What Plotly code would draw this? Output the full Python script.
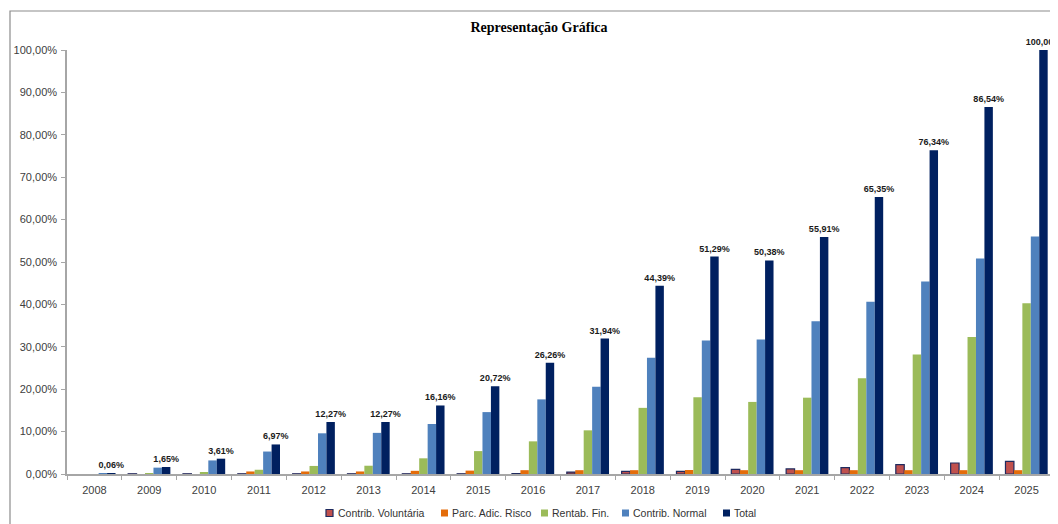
import plotly.graph_objects as go

anos = ["2008", "2009", "2010", "2011", "2012", "2013", "2014", "2015", "2016",
        "2017", "2018", "2019", "2020", "2021", "2022", "2023", "2024", "2025"]

contrib_voluntaria = [None, 0.05, 0.05, 0.05, 0.05, 0.05, 0.05, 0.05, 0.1,
                      0.45, 0.6, 0.6, 1.1, 1.2, 1.5, 2.2, 2.6, 3.0]
parc_adic_risco = [0, 0, 0, 0.6, 0.6, 0.6, 0.75, 0.8, 0.9,
                   0.9, 0.9, 0.95, 0.9, 0.9, 0.9, 0.9, 0.9, 0.9]
rentab_fin = [0, 0.05, 0.3, 1.0, 1.9, 1.95, 3.7, 5.4, 7.7,
              10.3, 15.6, 18.1, 17.0, 18.0, 22.6, 28.2, 32.3, 40.3]
contrib_normal = [0.02, 1.5, 3.2, 5.3, 9.6, 9.7, 11.8, 14.6, 17.6,
                  20.6, 27.4, 31.5, 31.7, 36.0, 40.6, 45.4, 50.8, 56.0]
total = [0.06, 1.65, 3.61, 6.97, 12.27, 12.27, 16.16, 20.72, 26.26,
         31.94, 44.39, 51.29, 50.38, 55.91, 65.35, 76.34, 86.54, 100.00]

y_ticks = [0, 10, 20, 30, 40, 50, 60, 70, 80, 90, 100]
y_ticktext = [f"{v:.2f}%".replace(".", ",") for v in y_ticks]

series_names = ["Contrib. Voluntária", "Parc. Adic. Risco", "Rentab. Fin.", "Contrib. Normal", "Total"]
series_values = [contrib_voluntaria, parc_adic_risco, rentab_fin, contrib_normal, total]
series_colors = ["#C0504D", "#E46C0A", "#9BBB59", "#4F81BD", "#002060"]
series_lines = [dict(color="#1F2A5E", width=1.2), dict(width=0), dict(width=0), dict(width=0), dict(width=0)]

# page is offset 8px by the browser's default body margin
OFF = 8
W, H = 1058 - OFF, 524 - OFF
L, R, T, B = 67 - OFF, 4, 50 - OFF, 50
pw, ph = W - L - R, H - T - B


def px_x(page_x):
    return (page_x - OFF - L) / pw


def px_y(page_y):
    return (H - B - (page_y - OFF)) / ph


fig = go.Figure()
for name, vals, color, line in zip(series_names, series_values, series_colors, series_lines):
    kw = {}
    if name == "Total":
        kw = dict(texttemplate="%{y:.2f}%", textposition="outside", constraintext="none",
                  textfont=dict(family="Liberation Sans", size=9, color="#1a1a1a", weight="bold"),
                  cliponaxis=False)
    fig.add_trace(go.Bar(name=name, x=anos, y=vals, showlegend=False,
                         marker=dict(color=color, line=line), **kw))

# legend drawn as key squares + labels, placed like the reference
legend_symbol_x = [326, 441, 541, 622, 723]
legend_text_x = [336, 450, 550, 631, 732]
legend_y = 513
shapes = [dict(type="rect", xref="paper", yref="paper",
               x0=px_x(10), x1=1.2, y0=-0.3, y1=px_y(11),
               line=dict(color="#8C8C8C", width=1.2), fillcolor="rgba(0,0,0,0)", layer="below")]
annotations = []
for name, color, line, sx, tx in zip(series_names, series_colors, series_lines,
                                     legend_symbol_x, legend_text_x):
    shapes.append(dict(type="rect", xref="paper", yref="paper",
                       x0=px_x(sx), x1=px_x(sx + 7), y0=px_y(legend_y + 3.5), y1=px_y(legend_y - 3.5),
                       fillcolor=color,
                       line=dict(color=line.get("color", color), width=line["width"] or 0)))
    annotations.append(dict(text=name, xref="paper", yref="paper", x=px_x(tx), y=px_y(legend_y),
                            xanchor="left", yanchor="middle", showarrow=False,
                            font=dict(family="Liberation Sans", size=10.5, color="#333333")))

fig.update_layout(
    width=W, height=H,
    separators=",.",
    showlegend=False,
    paper_bgcolor="white", plot_bgcolor="white",
    margin=dict(l=L, r=R, t=T, b=B, autoexpand=False),
    barmode="group", bargap=0.23, bargroupgap=0,
    font=dict(family="Liberation Sans", size=11, color="#333333"),
    title=dict(text="<b>Representação Gráfica</b>", x=(539 - OFF) / W, xanchor="center",
               y=1 - (27 - OFF) / H, yanchor="middle",
               font=dict(family="Liberation Serif", size=14, color="#000000")),
    xaxis=dict(type="category", showline=True, linecolor="#A6A6A6", linewidth=1.5,
               ticks="outside", tickson="boundaries", ticklen=4, tickcolor="#A6A6A6",
               ticklabelstandoff=5,
               showgrid=False, tickfont=dict(size=11, color="#404040")),
    yaxis=dict(range=[0, 100], tickvals=y_ticks, ticktext=y_ticktext,
               showline=True, linecolor="#A6A6A6", linewidth=1.5,
               ticks="outside", ticklen=4, tickcolor="#A6A6A6", showgrid=False,
               ticklabelstandoff=2,
               zeroline=False, tickfont=dict(size=11, color="#404040")),
    shapes=shapes,
    annotations=annotations,
)

fig.write_html("out.html")
